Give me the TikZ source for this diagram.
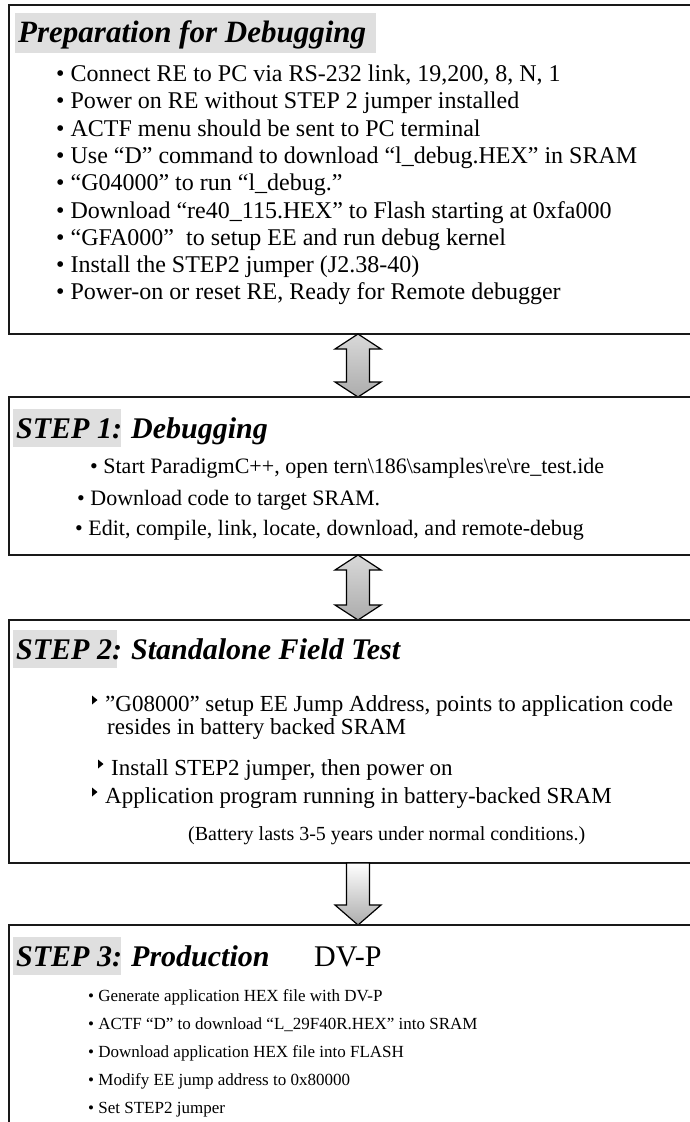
\documentclass[tikz,border=0pt]{standalone}
\usepackage{fontspec}
\setmainfont{Liberation Serif}
\usetikzlibrary{calc}

\tikzset{
  panel/.style={draw=black!90, line width=2pt},
  titlebg/.style={fill=gray!25, draw=none},
  ttl/.style={anchor=base west, inner sep=0pt, font=\fontsize{30}{34}\selectfont\bfseries\itshape},
  itemlg/.style={anchor=base west, inner sep=0pt, font=\fontsize{24}{28}\selectfont},
  item/.style={anchor=base west, inner sep=0pt, font=\fontsize{23}{27}\selectfont},
  itemmd/.style={anchor=base west, inner sep=0pt, font=\fontsize{22}{26}\selectfont},
  itemsm/.style={anchor=base west, inner sep=0pt, font=\fontsize{17}{20}\selectfont},
  note/.style={anchor=base west, inner sep=0pt, font=\fontsize{20}{24}\selectfont},
  blockarrow/.style={draw=black, line width=1.2pt, line join=miter,
    top color=gray!30, middle color=white, bottom color=gray!65},
  downarrow/.style={draw=black, line width=1.2pt, line join=miter,
    top color=white, bottom color=gray!65},
  tri/.style={fill=black, draw=none},
}

% small filled triangle in front of a text line
\newcommand\tribullet[1]{%
  \fill[tri] ($(#1.base west)+(-13,-15.5)$) -- ++(5.5,4.5) -- ++(-5.5,4.5) -- cycle;}

% double-headed block arrow: x, top tip, bottom tip
\newcommand\dblarrow[3]{%
  \pgfmathsetmacro\hA{#2+15}\pgfmathsetmacro\hB{#3-15}%
  \path[blockarrow] (#1,#2) -- (#1+23,\hA) -- (#1+11.5,\hA) -- (#1+11.5,\hB)
    -- (#1+23,\hB) -- (#1,#3) -- (#1-23,\hB) -- (#1-11.5,\hB)
    -- (#1-11.5,\hA) -- (#1-23,\hA) -- cycle;}

\begin{document}
\begin{tikzpicture}[x=1pt,y=-1pt]
\useasboundingbox (0,0) rectangle (690,1122);
\clip (0,0) rectangle (690,1122);

% ---------- Preparation ----------
\draw[panel] (9,5) rectangle (720,334);
\fill[titlebg] (15,13) rectangle (376,53);
\node[ttl, font=\fontsize{31}{35}\selectfont\bfseries\itshape] (t0) at (18,42) {Preparation for Debugging};
\node[itemlg] (p1) at (56,81.5)  {• Connect RE to PC via RS-232 link, 19,200, 8, N, 1};
\node[itemlg] (p2) at (56,108.8) {• Power on RE without STEP 2 jumper installed};
\node[itemlg] (p3) at (56,136.1) {• ACTF menu should be sent to PC terminal};
\node[itemlg] (p4) at (56,163.4) {• Use “D” command to download “l\_debug.HEX” in SRAM};
\node[itemlg] (p5) at (56,190.7) {• “G04000” to run “l\_debug.”};
\node[itemlg] (p6) at (56,218.0) {• Download “re40\_115.HEX” to Flash starting at 0xfa000};
\node[itemlg] (p7) at (56,245.3) {• “GFA000”\ \ to setup EE and run debug kernel};
\node[itemlg] (p8) at (56,272.6) {• Install the STEP2 jumper (J2.38-40)};
\node[itemlg] (p9) at (56,299.9) {• Power-on or reset RE, Ready for Remote debugger};

\dblarrow{358}{334}{397}

% ---------- STEP 1 ----------
\draw[panel] (9,397) rectangle (720,555);
\fill[titlebg] (13,409) rectangle (121,447);
\node[ttl] (t1) at (16,438) {STEP 1:};
\node[ttl] (t1b) at (131,438) {Debugging};
\node[itemmd] (s1) at (90,473) {• Start ParadigmC++, open tern\textbackslash186\textbackslash samples\textbackslash re\textbackslash re\_test.ide};
\node[itemmd] (s2) at (77,505) {• Download code to target SRAM.};
\node[itemmd] (s3) at (75,535) {• Edit, compile, link, locate, download, and remote-debug};

\dblarrow{358}{555}{620}

% ---------- STEP 2 ----------
\draw[panel] (9,620) rectangle (720,863);
\fill[titlebg] (13,630) rectangle (117,668);
\node[ttl] (t2) at (16,659) {STEP 2:};
\node[ttl] (t2b) at (131,659) {Standalone Field Test};
\node[item] (f1) at (105,711) {”G08000” setup EE Jump Address, points to application code};
\tribullet{f1}
\node[item] (f1b) at (107,734) {resides in battery backed SRAM};
\node[item] (f2) at (111,775) {Install STEP2 jumper, then power on};
\tribullet{f2}
\node[item] (f3) at (105,803) {Application program running in battery-backed SRAM};
\tribullet{f3}
\node[note] (f4) at (188,840) {(Battery lasts 3-5 years under normal conditions.)};

% single block arrow down
\path[downarrow] (346.5,863) -- (369.5,863) -- (369.5,905) -- (381,905)
  -- (358,925) -- (335,905) -- (346.5,905) -- cycle;

% ---------- STEP 3 ----------
\draw[panel] (9,925) rectangle (720,1140);
\fill[titlebg] (13,937) rectangle (121,975);
\node[ttl] (t3) at (16,966) {STEP 3:};
\node[ttl] (t3b) at (131,966) {Production};
\node[ttl, font=\fontsize{30}{34}\selectfont] (t3c) at (314,966) {DV-P};
\node[itemsm] (d1) at (88,1001) {• Generate application HEX file with DV-P};
\node[itemsm] (d2) at (88,1029) {• ACTF “D” to download “L\_29F40R.HEX” into SRAM};
\node[itemsm] (d3) at (88,1057) {• Download application HEX file into FLASH};
\node[itemsm] (d4) at (88,1085) {• Modify EE jump address to 0x80000};
\node[itemsm] (d5) at (88,1113) {• Set STEP2 jumper};
\end{tikzpicture}
\end{document}
